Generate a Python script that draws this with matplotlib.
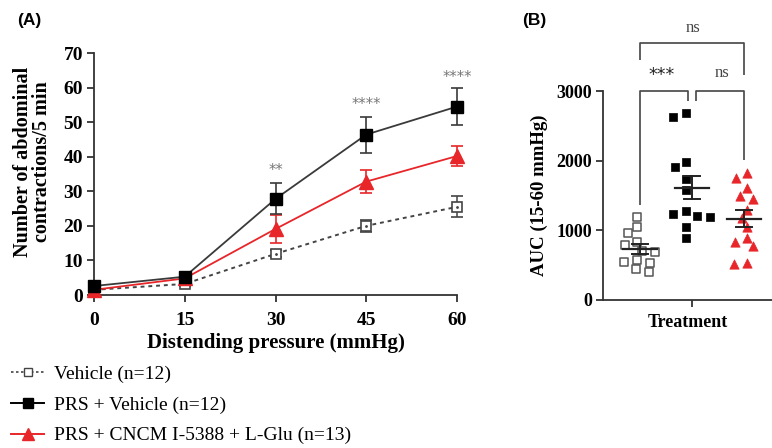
import numpy as np
import matplotlib
matplotlib.use("Agg")
import matplotlib.pyplot as plt
from matplotlib.lines import Line2D

# ---------------- data ----------------
pressure = [0, 15, 30, 45, 60]
veh_mean = [1.5, 3.2, 11.9, 20.0, 25.5]
veh_sem = [0.5, 0.5, 1.0, 1.8, 3.0]
prs_mean = [2.6, 5.3, 27.8, 46.4, 54.5]
prs_sem = [0.8, 0.8, 4.5, 5.2, 5.3]
cncm_mean = [1.5, 4.8, 19.1, 32.8, 40.2]
cncm_sem = [0.5, 0.6, 4.0, 3.4, 3.0]
star_labels = ["", "", "**", "****", "****"]
star_y = [0, 0, 36.0, 55.0, 63.0]

legend_labels = ["Vehicle (n=12)", "PRS + Vehicle (n=12)", "PRS + CNCM I-5388 + L-Glu (n=13)"]

auc_vehicle = [1195, 1052, 957, 828, 789, 708, 693, 574, 550, 526, 445, 397]
auc_prs = [2678, 2630, 1985, 1904, 1731, 1578, 1277, 1229, 1210, 1195, 1052, 894]
auc_cncm = [1818, 1755, 1602, 1492, 1444, 1291, 1172, 1043, 894, 837, 779, 535, 512]

RED = "#e8262a"
DARK = "#333333"
serif = ["Liberation Serif", "DejaVu Serif"]
sans = ["Liberation Sans", "DejaVu Sans"]

fig = plt.figure(figsize=(7.72, 4.48), dpi=100)
W, H = 772.0, 448.0

# ---------------- panel A ----------------
axA = fig.add_axes([94 / W, 1 - 295 / H, (457 - 94) / W, (295 - 53) / H])
axA.set_xlim(0, 60)
axA.set_ylim(0, 70)
for s in ["top", "right"]:
    axA.spines[s].set_visible(False)
for s in ["left", "bottom"]:
    axA.spines[s].set_color(DARK)
    axA.spines[s].set_linewidth(1.3)
axA.tick_params(axis="both", direction="out", length=5, width=1.3, color=DARK, pad=3)
axA.set_xticks(pressure)
axA.set_yticks(range(0, 71, 10))
for lab in axA.get_xticklabels() + axA.get_yticklabels():
    lab.set_family(serif)
    lab.set_fontweight("bold")
    lab.set_fontsize(14)
axA.tick_params(axis="x", pad=7)

axA.errorbar(pressure, veh_mean, yerr=veh_sem, color="#444444", ls=(0, (2, 2)), lw=1.4,
             marker="s", ms=7.5, mfc="white", mec="#444444", mew=1.2,
             capsize=4, capthick=1.1, elinewidth=1.1, clip_on=False, zorder=3)
axA.plot(pressure, veh_mean, ls="none", marker=".", ms=2, color="#444444", clip_on=False, zorder=4)
axA.errorbar(pressure, cncm_mean, yerr=cncm_sem, color=RED, lw=1.3,
             marker="^", ms=10, mfc=RED, mec=RED,
             capsize=4.5, capthick=1.2, elinewidth=1.2, clip_on=False, zorder=4)
axA.errorbar(pressure, prs_mean, yerr=prs_sem, color="#3a3a3a", lw=1.3,
             marker="s", ms=9, mfc="black", mec="black",
             capsize=4.5, capthick=1.2, elinewidth=1.2, clip_on=False, zorder=5)

for x, y, t in zip(pressure, star_y, star_labels):
    if t:
        axA.text(x, y, t, ha="center", va="center", fontsize=10.5, color="#777777",
                 family=["DejaVu Sans"])

axA.set_ylabel("Number of abdominal\ncontractions/5 min", family=serif, fontweight="bold",
               fontsize=14.5, linespacing=0.95)
axA.yaxis.set_label_coords(-0.115, 0.55)
axA.set_xlabel("Distending pressure (mmHg)", family=serif, fontweight="bold",
               fontsize=15, labelpad=3)

handles = [
    Line2D([], [], color="#444444", ls=(0, (1.5, 1.5)), lw=1.2, marker="s", ms=6,
           mfc="white", mec="#444444"),
    Line2D([], [], color="black", lw=1.4, marker="s", ms=7, mfc="black", mec="black"),
    Line2D([], [], color=RED, lw=1.4, marker="^", ms=8, mfc=RED, mec=RED),
]
fig.legend(handles, legend_labels, loc="upper left", bbox_to_anchor=(11 / W, 1 - 365 / H),
           frameon=False, prop={"family": serif, "size": 14},
           handlelength=1.7, handletextpad=0.5, labelspacing=0.68, borderaxespad=0,
           borderpad=0)

fig.text(17 / W, 1 - 21 / H, "(A)", family=sans, fontweight="bold", fontsize=12.5,
         ha="left", va="center")

# ---------------- panel B ----------------
axB = fig.add_axes([603 / W, 1 - 300 / H, (772 - 603) / W, (300 - 91) / H])
axB.set_xlim(-0.71, 2.54)
axB.set_ylim(0, 3000)
for s in ["top", "right"]:
    axB.spines[s].set_visible(False)
for s in ["left", "bottom"]:
    axB.spines[s].set_color(DARK)
    axB.spines[s].set_linewidth(1.3)
axB.tick_params(axis="both", direction="out", length=5, width=1.3, color=DARK, pad=3)
axB.set_yticks([0, 1000, 2000, 3000])
axB.set_xticks([1])
axB.set_xticklabels([""])
for lab in axB.get_yticklabels():
    lab.set_family(serif)
    lab.set_fontweight("bold")
    lab.set_fontsize(13)
axB.set_xlabel("Treatment", family=serif, fontweight="bold", fontsize=13, labelpad=2)
axB.set_ylabel("AUC (15-60 mmHg)", family=serif, fontweight="bold", fontsize=13.5, labelpad=6)

def swarm_offsets(ax, xc, vals, ax_px=13.0, ay_px=9.0):
    trans = ax.transData
    pts_px = [trans.transform((xc, v)) for v in vals]
    order = np.argsort(vals)[::-1]
    placed = []
    offs = np.zeros(len(vals))
    cands = [0]
    for k in range(1, 80):
        cands += [-k * 0.5, k * 0.5]
    for i in order:
        py = pts_px[i][1]
        for c in cands:
            ok = True
            for (ox, oy) in placed:
                if ((c - ox) / ax_px) ** 2 + ((py - oy) / ay_px) ** 2 < 1.0:
                    ok = False
                    break
            if ok:
                offs[i] = c
                placed.append((c, py))
                break
    # re-centre the group on its category
    offs = offs - (offs.max() + offs.min()) / 2.0
    px_per_unit = trans.transform((1, 0))[0] - trans.transform((0, 0))[0]
    return offs / px_per_unit

groups = [
    (0, auc_vehicle, dict(marker="s", s=30, facecolors="white", edgecolors="#555555", linewidths=1.1)),
    (1, auc_prs, dict(marker="s", s=40, facecolors="black", edgecolors="black", linewidths=0.5)),
    (2, auc_cncm, dict(marker="^", s=45, facecolors=RED, edgecolors=RED, linewidths=0.5)),
]
for xc, vals, style in groups:
    vals = np.array(vals, dtype=float)
    offs = swarm_offsets(axB, xc, vals)
    axB.scatter(xc + offs, vals, zorder=3, clip_on=False, **style)
    m = vals.mean()
    se = vals.std(ddof=1) / np.sqrt(len(vals))
    axB.plot([xc - 0.33, xc + 0.33], [m, m], color="#222222", lw=1.6, zorder=4)
    axB.plot([xc, xc], [m - se, m + se], color="#222222", lw=1.4, zorder=4)
    for yy in (m - se, m + se):
        axB.plot([xc - 0.15, xc + 0.15], [yy, yy], color="#222222", lw=1.4, zorder=4)

bk = dict(color="#444444", lw=1.2, clip_on=False, solid_capstyle="butt")
# vehicle vs PRS
axB.plot([0, 0, 0.93, 0.93], [1360, 3000, 3000, 2860], **bk)
# PRS vs CNCM
axB.plot([1.07, 1.07, 2, 2], [2860, 3000, 3000, 2010], **bk)
# vehicle vs CNCM
axB.plot([0, 0, 2, 2], [3440, 3690, 3690, 3230], **bk)
axB.text(0.42, 3230, "***", ha="center", va="center", fontsize=12.5, color="#222222",
         family=["DejaVu Sans"], clip_on=False)
axB.text(1.58, 3260, "ns", ha="center", va="center", fontsize=12, color="#444444",
         family=serif, clip_on=False)
axB.text(1.02, 3910, "ns", ha="center", va="center", fontsize=12, color="#444444",
         family=serif, clip_on=False)

fig.text(522 / W, 1 - 21 / H, "(B)", family=sans, fontweight="bold", fontsize=12.5,
         ha="left", va="center")

fig.savefig("out.png", dpi=100)
